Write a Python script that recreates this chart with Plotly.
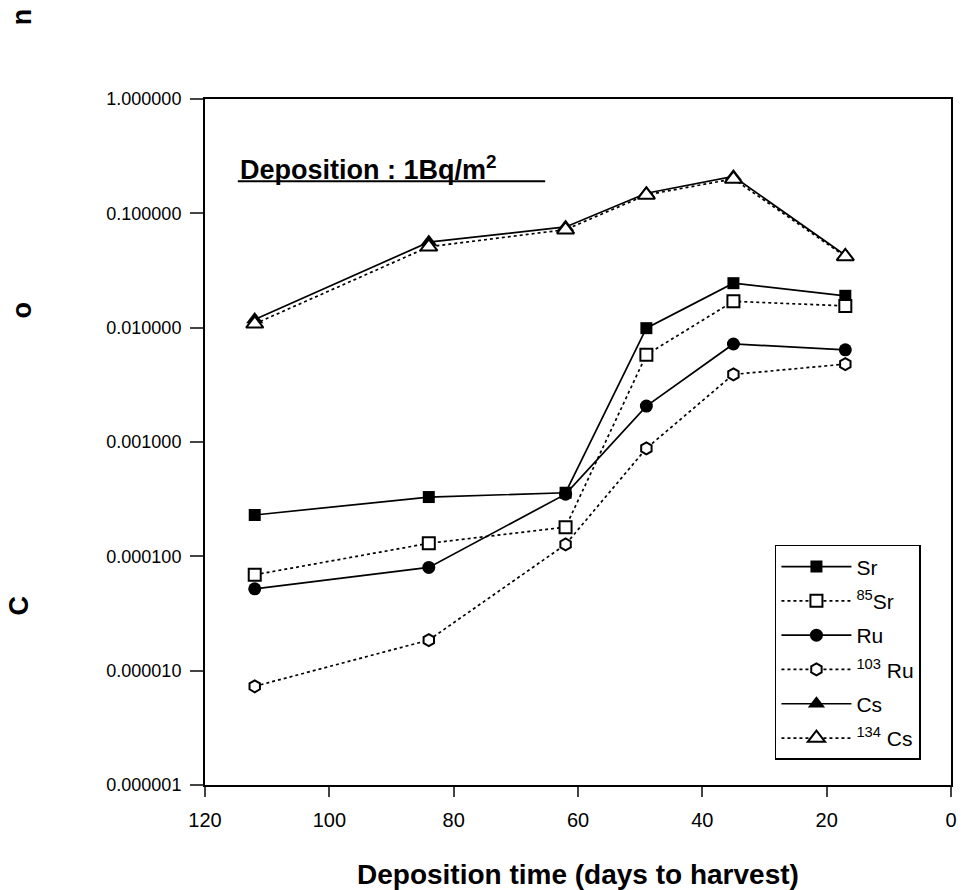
import plotly.graph_objects as go

days = [112, 84, 62, 49, 35, 17]
sr = [2.3e-4, 3.3e-4, 3.6e-4, 9.9e-3, 2.45e-2, 1.9e-2]
sr85 = [6.9e-5, 1.3e-4, 1.8e-4, 5.8e-3, 1.7e-2, 1.55e-2]
ru = [5.2e-5, 8.0e-5, 3.5e-4, 2.06e-3, 7.2e-3, 6.4e-3]
ru103 = [7.3e-6, 1.85e-5, 1.27e-4, 8.8e-4, 3.9e-3, 4.8e-3]
cs = [1.18e-2, 5.6e-2, 7.6e-2, 1.5e-1, 2.1e-1, 4.3e-2]
cs134 = [1.08e-2, 5.1e-2, 7.2e-2, 1.45e-1, 2.0e-1, 4.2e-2]

y_tickvals = [1e-6, 1e-5, 1e-4, 1e-3, 1e-2, 1e-1, 1]
y_ticktext = ["0.000001", "0.000010", "0.000100", "0.001000", "0.010000", "0.100000", "1.000000"]
x_tickvals = [120, 100, 80, 60, 40, 20, 0]

FONT = "Arial, Liberation Sans, sans-serif"

series = [
    ("Sr", sr, "solid", "square", "black", 12),
    ("<sup>85</sup>Sr", sr85, "dot", "square", "white", 12),
    ("Ru", ru, "solid", "circle", "black", 13),
    ("<sup>103</sup> Ru", ru103, "dot", "hexagon", "white", 12),
    ("Cs", cs, "solid", "triangle-up", "black", 15),
    ("<sup>134</sup> Cs", cs134, "dot", "triangle-up", "white", 15),
]

fig = go.Figure()
for i, (name, vals, dash, sym, fill, sz) in enumerate(series):
    fig.add_trace(go.Scatter(
        x=days, y=vals, name=name, mode="lines+markers",
        legendgroup=f"g{i}",
        line=dict(color="black", width=1.7, dash=dash),
        marker=dict(symbol=sym, size=sz, color=fill,
                    line=dict(color="black", width=2 if fill == "white" else 0)),
    ))

fig.update_layout(
    width=968, height=890,
    margin=dict(l=205, r=17, t=99, b=105),
    paper_bgcolor="white", plot_bgcolor="white",
    font=dict(family=FONT, size=20, color="black"),
    showlegend=True,
    legend=dict(
        x=0.764, y=0.35, xanchor="left", yanchor="top",
        bgcolor="white", bordercolor="black", borderwidth=1.5,
        font=dict(family=FONT, size=21, color="black"),
        itemwidth=70, tracegroupgap=4,
    ),
)

fig.update_xaxes(
    range=[120, 0], tickvals=x_tickvals, ticks="outside", ticklen=10, tickwidth=2,
    showline=True, linecolor="black", linewidth=2, mirror=True,
    showgrid=False, zeroline=False, tickfont=dict(size=20), ticklabelstandoff=6,
)
fig.update_yaxes(
    type="log", range=[-6, 0], tickvals=y_tickvals, ticktext=y_ticktext,
    ticks="outside", ticklen=13, tickwidth=2,
    showline=True, linecolor="black", linewidth=2, mirror=True,
    showgrid=False, zeroline=False, tickfont=dict(size=18), ticklabelstandoff=5,
)

# annotation text with underline
fig.add_annotation(
    text="<b>Deposition : 1Bq/m<sup>2</sup></b>", xref="paper", yref="paper",
    x=0.044, y=0.8995, xanchor="left", yanchor="middle", showarrow=False,
    font=dict(family=FONT, size=27, color="black"),
)
fig.add_shape(type="line", xref="paper", yref="paper", x0=0.044, x1=0.456,
              y0=0.880, y1=0.880, line=dict(color="black", width=2))

# x axis title
fig.add_annotation(
    text="<b>Deposition time (days to harvest)</b>", xref="paper", yref="paper",
    x=0.5, y=-0.13, xanchor="center", yanchor="middle", showarrow=False,
    font=dict(family=FONT, size=28, color="black"),
)

# y axis title fragments
for ch, xp, yp in [("C", -0.249, 0.262), ("o", -0.245, 0.692), ("n", -0.246, 1.12)]:
    fig.add_annotation(
        text=f"<b>{ch}</b>", xref="paper", yref="paper", x=xp, y=yp,
        xanchor="center", yanchor="middle", showarrow=False, textangle=-90,
        font=dict(family=FONT, size=27, color="black"),
    )

fig.write_html("out.html")
